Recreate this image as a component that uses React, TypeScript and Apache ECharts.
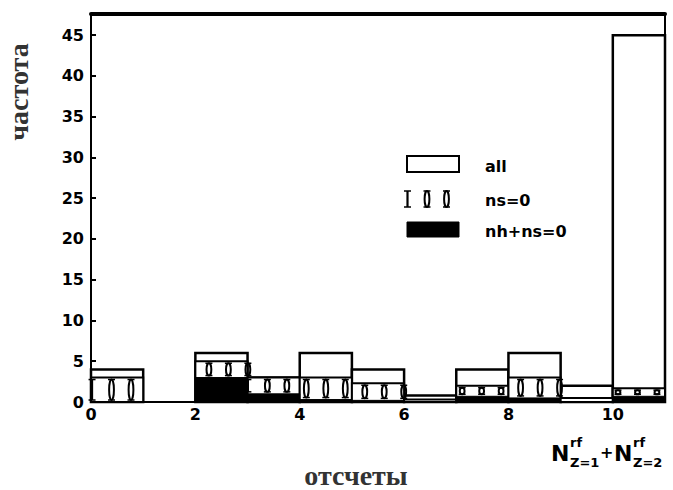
import React, { useEffect, useRef } from "react";
import * as echarts from "echarts";

// Bin edges (N_{Z=1}^{rf} + N_{Z=2}^{rf})
const binStarts = [0, 1, 2, 3, 4, 5, 6, 7, 8, 9, 10];
const binWidth = 1;
// "all"
const allCounts = [4, 0, 6, 3, 6, 4, 0.8, 4, 6, 2, 45];
// "ns=0"
const nsCounts = [3, 0, 5, 3, 3, 2.3, 0.3, 2, 3, 0.5, 1.7];
// "nh+ns=0"
const nhCounts = [0, 0, 3, 1, 0.3, 0.2, 0, 0.7, 0.5, 0, 0.7];

const yTicks = [0, 5, 10, 15, 20, 25, 30, 35, 40, 45];
const xTicks = [0, 2, 4, 6, 8, 10];
const xMin = 0;
const xMax = 11;
const yMax = 47.6;

// hatch glyph pattern phase/period (data units)
const glyphPhase = 0.02;
const glyphPeriod = 0.3733;

function glyph(cx: number, top: number, bottom: number, bar: boolean) {
  const h = bottom - top;
  const els: any[] = [];
  if (bar) {
    els.push({
      type: "line",
      shape: { x1: cx, y1: top, x2: cx, y2: bottom },
      style: { stroke: "#000", lineWidth: 2.2 },
    });
  } else {
    els.push({
      type: "ellipse",
      shape: { cx, cy: top + h / 2, rx: 2.4, ry: Math.max(h / 2, 1) },
      style: { fill: "none", stroke: "#000", lineWidth: 2 },
    });
  }
  els.push({
    type: "line",
    shape: { x1: cx - 3.5, y1: top, x2: cx + 3.5, y2: top },
    style: { stroke: "#000", lineWidth: 1.5 },
  });
  els.push({
    type: "line",
    shape: { x1: cx - 3.5, y1: bottom, x2: cx + 3.5, y2: bottom },
    style: { stroke: "#000", lineWidth: 1.5 },
  });
  return els;
}

export default function App() {
  const ref = useRef<HTMLDivElement>(null);
  useEffect(() => {
    if (!ref.current) return;
    const chart = echarts.init(ref.current, undefined, { renderer: "svg" });

    const allData = binStarts.map((s, i) => [s, s + binWidth, allCounts[i]]);
    const nsData = binStarts.map((s, i) => [s, s + binWidth, nsCounts[i], nhCounts[i]]);
    const nhData = binStarts.map((s, i) => [s, s + binWidth, nhCounts[i]]);

    const labelFont = {
      fontFamily: "DejaVu Sans",
      fontWeight: "bold" as const,
      fontSize: 16,
      color: "#000",
    };

    const legendGlyphs: any[] = [];
    const lgTop = 191;
    const lgBottom = 207;
    [407.5, 427, 446.5].forEach((x, k) => {
      glyph(x, lgTop, lgBottom, k === 0).forEach((e) => legendGlyphs.push(e));
    });

    const sym = (text: string, x: number, y: number, size: number) => ({
      type: "text",
      x,
      y,
      style: { text, fontFamily: "DejaVu Sans", fontWeight: "bold", fontSize: size, fill: "#000", verticalAlign: "middle" },
    });

    const option: any = {
      animation: false,
      backgroundColor: "#fff",
      grid: { left: 91, right: 8, top: 14, bottom: 88 },
      xAxis: [
        {
          type: "value",
          min: xMin,
          max: xMax,
          interval: 2,
          axisLine: { show: true, onZero: false, lineStyle: { color: "#000", width: 2 } },
          axisTick: { show: false },
          splitLine: { show: false },
          axisLabel: {
            ...labelFont,
            margin: 4,
            formatter: (v: number) => (xTicks.includes(v) ? String(v) : ""),
          },
        },
        {
          type: "value",
          position: "top",
          min: xMin,
          max: xMax,
          interval: 2,
          axisLine: { show: true, onZero: false, lineStyle: { color: "#000", width: 4 } },
          axisTick: { show: false },
          splitLine: { show: false },
          axisLabel: { show: false },
        },
      ],
      yAxis: [
        {
          type: "value",
          min: 0,
          max: yMax,
          interval: 5,
          axisLine: { show: true, onZero: false, lineStyle: { color: "#000", width: 2 } },
          axisTick: { show: true, inside: true, length: 5, lineStyle: { color: "#000", width: 2 } },
          splitLine: { show: false },
          axisLabel: {
            ...labelFont,
            margin: 7,
            formatter: (v: number) => (yTicks.includes(v) ? String(v) : ""),
          },
        },
        {
          type: "value",
          position: "right",
          min: 0,
          max: yMax,
          interval: 5,
          axisLine: { show: true, onZero: false, lineStyle: { color: "#000", width: 2 } },
          axisTick: { show: true, inside: true, length: 5, lineStyle: { color: "#000", width: 2 } },
          splitLine: { show: false },
          axisLabel: { show: false },
        },
      ],
      series: [
        {
          name: "all",
          type: "custom",
          xAxisIndex: 0,
          yAxisIndex: 0,
          encode: { x: [0, 1], y: 2 },
          data: allData,
          renderItem: (params: any, api: any) => {
            const s = api.value(0);
            const e = api.value(1);
            const v = api.value(2);
            if (v <= 0) return null;
            const p0 = api.coord([s, 0]);
            const p1 = api.coord([e, v]);
            return {
              type: "rect",
              shape: { x: p0[0], y: p1[1], width: p1[0] - p0[0], height: p0[1] - p1[1] },
              style: { fill: "#fff", stroke: "#000", lineWidth: 2.5 },
            };
          },
        },
        {
          name: "ns=0",
          type: "custom",
          xAxisIndex: 0,
          yAxisIndex: 0,
          encode: { x: [0, 1], y: 2 },
          data: nsData,
          renderItem: (params: any, api: any) => {
            const s = api.value(0);
            const e = api.value(1);
            const v = api.value(2);
            const b = api.value(3);
            if (v <= 0) return null;
            const p0 = api.coord([s, 0]);
            const p1 = api.coord([e, v]);
            const pb = api.coord([s, b]);
            const children: any[] = [
              {
                type: "rect",
                shape: { x: p0[0], y: p1[1], width: p1[0] - p0[0], height: p0[1] - p1[1] },
                style: { fill: "#fff", stroke: "#000", lineWidth: 2 },
              },
            ];
            const top = p1[1] + 2;
            const bottom = pb[1] - 2;
            if (bottom - top >= 3) {
              for (let k = 0; k < 40; k++) {
                const u = glyphPhase + k * glyphPeriod;
                if (u < s - 0.01 || u > e + 0.01) continue;
                const cx = api.coord([u, 0])[0];
                const edge = u - s < 0.05;
                glyph(cx, top, bottom, edge).forEach((g) => children.push(g));
              }
            }
            return { type: "group", children };
          },
        },
        {
          name: "nh+ns=0",
          type: "custom",
          xAxisIndex: 0,
          yAxisIndex: 0,
          encode: { x: [0, 1], y: 2 },
          data: nhData,
          renderItem: (params: any, api: any) => {
            const s = api.value(0);
            const e = api.value(1);
            const v = api.value(2);
            if (v <= 0) return null;
            const p0 = api.coord([s, 0]);
            const p1 = api.coord([e, v]);
            return {
              type: "rect",
              shape: { x: p0[0], y: p1[1], width: p1[0] - p0[0], height: p0[1] - p1[1] },
              style: { fill: "#000", stroke: "#000", lineWidth: 1 },
            };
          },
        },
      ],
      graphic: [
        // legend
        {
          type: "rect",
          shape: { x: 407, y: 156, width: 52, height: 16 },
          style: { fill: "#fff", stroke: "#000", lineWidth: 2 },
        },
        sym("all", 485, 166, 16),
        ...legendGlyphs,
        sym("ns=0", 485, 200, 16),
        {
          type: "rect",
          shape: { x: 407, y: 222, width: 52, height: 15 },
          style: { fill: "#000", stroke: "#000", lineWidth: 1 },
        },
        sym("nh+ns=0", 485, 231, 16),
        // y axis title
        {
          type: "text",
          x: 18,
          y: 92,
          rotation: Math.PI / 2,
          style: {
            text: "частота",
            fontFamily: "Liberation Serif",
            fontWeight: "bold",
            fontSize: 28,
            fill: "#333",
            align: "center",
            verticalAlign: "middle",
          },
        },
        // x axis title
        {
          type: "text",
          x: 356,
          y: 475,
          style: {
            text: "отсчеты",
            fontFamily: "Liberation Serif",
            fontWeight: "bold",
            fontSize: 28,
            fill: "#333",
            align: "center",
            verticalAlign: "middle",
          },
        },
        // x variable label: N^rf_{Z=1} + N^rf_{Z=2}
        sym("N", 551, 453, 22),
        sym("rf", 570, 442, 13),
        sym("Z=1", 570, 462, 13),
        sym("+", 600, 452, 16),
        sym("N", 614, 453, 22),
        sym("rf", 633, 442, 13),
        sym("Z=2", 633, 462, 13),
      ],
    };

    chart.setOption(option);
    return () => chart.dispose();
  }, []);

  return <div ref={ref} style={{ width: 673, height: 490, position: "absolute", left: 0, top: 0 }} />;
}
